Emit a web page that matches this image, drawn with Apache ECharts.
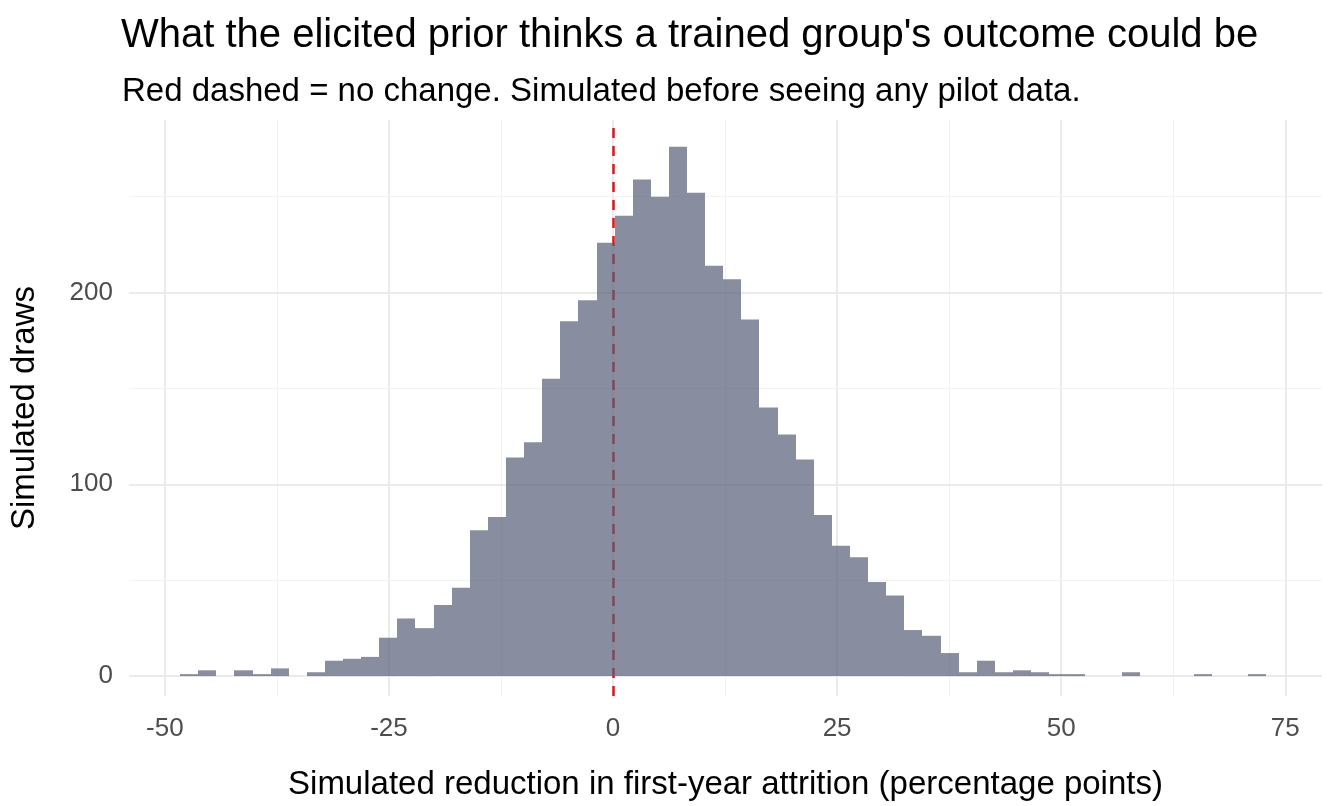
<!DOCTYPE html>
<html>
<head>
<meta charset="utf-8">
<script src="https://cdn.jsdelivr.net/npm/echarts@6/dist/echarts.min.js"></script>
<style>html,body{margin:0;padding:0;background:#fff}#chart{width:1344px;height:806px}</style>
</head>
<body>
<div id="chart"></div>
<script>
// histogram bins: first edge and width, then counts per bin
var firstEdge = -48.3;
var binWidth = 2.02;
var counts = [1, 3, 0, 3, 1, 4, 0, 2, 8, 9, 10, 20, 30, 25, 37, 46,
  76, 83, 114, 122, 155, 185, 196, 226, 240, 259, 250, 276, 252, 214,
  207, 186, 140, 126, 113, 84, 68, 62, 49, 42, 24, 21, 12, 2, 8,
  2, 3, 2, 1, 1, 0, 0, 2, 0, 0, 0, 1, 0, 0, 1];
var xTicks = [-50, -25, 0, 25, 50, 75];
var xMinor = [-37.5, -12.5, 12.5, 37.5, 62.5];
var yTicks = [0, 100, 200];
var yMinor = [50, 150, 250];

var bins = counts.map(function (c, i) {
  return [firstEdge + i * binWidth, firstEdge + (i + 1) * binWidth, c];
});

var myChart = echarts.init(document.getElementById('chart'));

var gridLines = [];
xTicks.forEach(function (v) { gridLines.push({ xAxis: v, lineStyle: { color: '#ebebeb', width: 2, type: 'solid' } }); });
xMinor.forEach(function (v) { gridLines.push({ xAxis: v, lineStyle: { color: '#f2f2f2', width: 1, type: 'solid' } }); });
yTicks.forEach(function (v) { gridLines.push({ yAxis: v, lineStyle: { color: '#ebebeb', width: 2, type: 'solid' } }); });
yMinor.forEach(function (v) { gridLines.push({ yAxis: v, lineStyle: { color: '#f2f2f2', width: 1, type: 'solid' } }); });

var font = 'Liberation Sans';

var option = {
  animation: false,
  title: [
    { text: "What the elicited prior thinks a trained group's outcome could be", left: 116, top: 11,
      textStyle: { fontFamily: font, fontSize: 40, fontWeight: 'normal', color: '#000' } },
    { text: 'Red dashed = no change. Simulated before seeing any pilot data.', left: 117, top: 70,
      textStyle: { fontFamily: font, fontSize: 33, fontWeight: 'normal', color: '#000' } }
  ],
  grid: { left: 120, right: 22, top: 120, bottom: 106 },
  xAxis: {
    type: 'value', min: -54, max: 79.1,
    name: 'Simulated reduction in first-year attrition (percentage points)',
    nameLocation: 'middle', nameGap: 72,
    nameTextStyle: { fontFamily: font, fontSize: 33, color: '#000' },
    axisLine: { show: false }, axisTick: { show: false }, splitLine: { show: false },
    axisLabel: { customValues: xTicks, margin: 20, fontFamily: font, fontSize: 26, color: '#4d4d4d' }
  },
  yAxis: {
    type: 'value', min: -10.4, max: 290,
    name: 'Simulated draws', nameLocation: 'middle', nameGap: 88, nameRotate: 90,
    nameTextStyle: { fontFamily: font, fontSize: 33, color: '#000' },
    axisLine: { show: false }, axisTick: { show: false }, splitLine: { show: false },
    axisLabel: { customValues: yTicks, margin: 16, fontFamily: font, fontSize: 26, color: '#4d4d4d' }
  },
  series: [
    {
      // panel gridlines, on the bottom layer
      type: 'line', data: [], zlevel: 0, silent: true,
      markLine: { silent: true, symbol: 'none', label: { show: false }, data: gridLines }
    },
    {
      type: 'custom', zlevel: 1,
      data: bins,
      encode: { x: [0, 1], y: 2 },
      renderItem: function (params, api) {
        var p0 = api.coord([api.value(0), 0]);
        var p1 = api.coord([api.value(1), api.value(2)]);
        var x0 = Math.round(p0[0]), x1 = Math.round(p1[0]);
        return {
          type: 'rect',
          shape: { x: x0, y: p1[1], width: x1 - x0, height: p0[1] - p1[1] },
          style: { fill: 'rgba(85,94,119,0.7)' }
        };
      },
      markLine: {
        silent: true, symbol: 'none', label: { show: false },
        lineStyle: { color: '#d7191c', width: 2.5, type: [10, 8] },
        data: [{ xAxis: 0 }]
      }
    }
  ]
};

myChart.setOption(option);
</script>
</body>
</html>
